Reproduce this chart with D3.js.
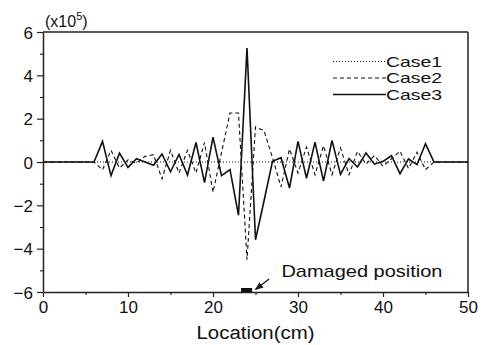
<!DOCTYPE html>
<html>
<head>
<meta charset="utf-8">
<script src="https://cdn.jsdelivr.net/npm/d3@7"></script>
<style>
  body { margin: 0; background: #fff; }
  text { font-family: "Liberation Sans", Arial, sans-serif; fill: #111; }
</style>
</head>
<body>
<div id="chart"></div>
<script>
// data (values in units of 1e5)
const positions = [0,1,2,3,4,5,6,7,8,9,10,11,12,13,14,15,16,17,18,19,20,21,22,23,24,25,
                   26,27,28,29,30,31,32,33,34,35,36,37,38,39,40,41,42,43,44,45,46,47,48,49,50];
const case1 = [0,0,0,0,0,0,0,0,0,0,0,0,0,0,0,0,0,0,0,0,0,0,0,0,0,0,
               0,0,0,0,0,0,0,0,0,0,0,0,0,0,0,0,0,0,0,0,0,0,0,0,0];
const case2 = [0,0,0,0,0,0,0,-0.36,0.54,-0.28,0.1,-0.05,0.26,0.34,-0.78,0.54,-0.51,0.54,-0.51,0.9,-1.4,0.43,2.26,2.26,-4.51,1.62,
               1.45,0.2,-1.15,0.6,-0.51,0.69,-0.59,0.75,-0.59,0.65,-0.59,0.49,-0.1,0.3,-0.2,0.15,0.5,-0.3,0.45,-0.35,0,0,0,0,0];
const case3 = [0,0,0,0,0,0,0,0.95,-0.63,0.41,-0.25,0.15,0,-0.15,0.37,-0.45,0.35,-0.6,0.9,-0.95,1.15,-0.63,-0.35,-2.46,5.26,-3.59,
               -1.8,0.03,0.2,-1.2,0.95,-0.75,0.92,-0.88,1.0,-0.57,0.16,-0.23,0.42,-0.1,0.03,0.29,-0.54,0.14,-0.12,0.84,0,0,0,0,0];
const seriesNames = ["Case1", "Case2", "Case3"];
const xTicks = [0, 10, 20, 30, 40, 50];
const yTicks = [-6, -4, -2, 0, 2, 4, 6];
const damaged = [23.3, 24.6];   // damaged segment on the beam (cm)

const width = 484, height = 345;
const margin = {top: 32, right: 16, bottom: 53, left: 43};
const w = width - margin.left - margin.right;
const h = height - margin.top - margin.bottom;

const svg = d3.select("#chart").append("svg")
    .attr("width", width)
    .attr("height", height);
const g = svg.append("g")
    .attr("transform", "translate(" + margin.left + "," + margin.top + ")");

const x = d3.scaleLinear().domain([0, 50]).range([0, w]);
const y = d3.scaleLinear().domain([-6, 6]).range([h, 0]);

// minor ticks
g.append("g")
    .attr("transform", "translate(0," + h + ")")
    .call(d3.axisBottom(x).tickValues([5, 15, 25, 35, 45]).tickSize(3).tickFormat(""))
    .call(s => s.select(".domain").remove());
g.append("g")
    .call(d3.axisLeft(y).tickValues([-5, -3, -1, 1, 3, 5]).tickSize(3).tickFormat(""))
    .call(s => s.select(".domain").remove());

// major axes
const xAxis = g.append("g")
    .attr("transform", "translate(0," + h + ")")
    .call(d3.axisBottom(x).tickValues(xTicks).tickSize(5).tickPadding(4).tickSizeOuter(0));
const yAxis = g.append("g")
    .call(d3.axisLeft(y).tickValues(yTicks).tickSize(6).tickPadding(4).tickSizeOuter(0));
[xAxis, yAxis].forEach(a => {
  a.selectAll("text").style("font-size", "17px").attr("fill", "#111");
  a.selectAll("line").attr("stroke", "#222").attr("stroke-width", 1.2);
  a.select(".domain").attr("stroke", "#222").attr("stroke-width", 1.5);
});
yAxis.selectAll("text").attr("dy", "0.36em");

// frame top and right
g.append("line").attr("x1", 0).attr("x2", w).attr("y1", 0).attr("y2", 0)
    .attr("stroke", "#222").attr("stroke-width", 1.5);
g.append("line").attr("x1", w).attr("x2", w).attr("y1", 0).attr("y2", h)
    .attr("stroke", "#222").attr("stroke-width", 1.5);

// lines
const styles = {
  Case1: {dash: "1,2", width: 1},
  Case2: {dash: "4,3", width: 1.1},
  Case3: {dash: null, width: 1.6}
};
const series = [case1, case2, case3];
const line = d3.line().x((d, i) => x(positions[i])).y(d => y(d));

series.forEach((vals, k) => {
  const st = styles[seriesNames[k]];
  g.append("path")
      .datum(vals)
      .attr("d", line)
      .attr("fill", "none")
      .attr("stroke", "#111")
      .attr("stroke-width", st.width)
      .attr("stroke-dasharray", st.dash)
      .attr("stroke-linejoin", "miter");
});

// legend
const leg = g.append("g");
seriesNames.forEach((name, k) => {
  const st = styles[name];
  const ly = 29.5 + k * 16.5;
  leg.append("line")
      .attr("x1", 290).attr("x2", 343)
      .attr("y1", ly).attr("y2", ly)
      .attr("stroke", "#111")
      .attr("stroke-width", st.width)
      .attr("stroke-dasharray", st.dash);
  leg.append("text")
      .attr("x", 343).attr("y", ly)
      .attr("dy", "0.35em")
      .attr("textLength", 56)
      .attr("lengthAdjust", "spacingAndGlyphs")
      .style("font-size", "15px")
      .text(name);
});

// damaged position marker
g.append("rect")
    .attr("x", x(damaged[0]))
    .attr("y", y(-6) - 4)
    .attr("width", x(damaged[1]) - x(damaged[0]))
    .attr("height", 4)
    .attr("fill", "#111");

svg.append("defs").append("marker")
    .attr("id", "arrow")
    .attr("viewBox", "0 0 10 10")
    .attr("refX", 9).attr("refY", 5)
    .attr("markerWidth", 7).attr("markerHeight", 7)
    .attr("orient", "auto")
    .append("path")
    .attr("d", "M0,1 L10,5 L0,9 Z")
    .attr("fill", "#111");

g.append("line")
    .attr("x1", x(26.6)).attr("y1", y(-5.4))
    .attr("x2", x(25.0)).attr("y2", y(-5.88))
    .attr("stroke", "#111").attr("stroke-width", 1.2)
    .attr("marker-end", "url(#arrow)");

g.append("text")
    .attr("x", x(28.05)).attr("y", y(-5.3))
    .attr("textLength", 161)
    .attr("lengthAdjust", "spacingAndGlyphs")
    .style("font-size", "17px")
    .text("Damaged position");

// axis title
svg.append("text")
    .attr("x", margin.left + w / 2)
    .attr("y", 339)
    .attr("text-anchor", "middle")
    .attr("textLength", 118)
    .attr("lengthAdjust", "spacingAndGlyphs")
    .style("font-size", "18px")
    .text("Location(cm)");

// scale note
const note = svg.append("text")
    .attr("x", 45).attr("y", 27)
    .style("font-size", "16px");
note.append("tspan").text("(x10");
note.append("tspan").attr("dy", -7).style("font-size", "11px").text("5");
note.append("tspan").attr("dy", 7).text(")");
</script>
</body>
</html>
